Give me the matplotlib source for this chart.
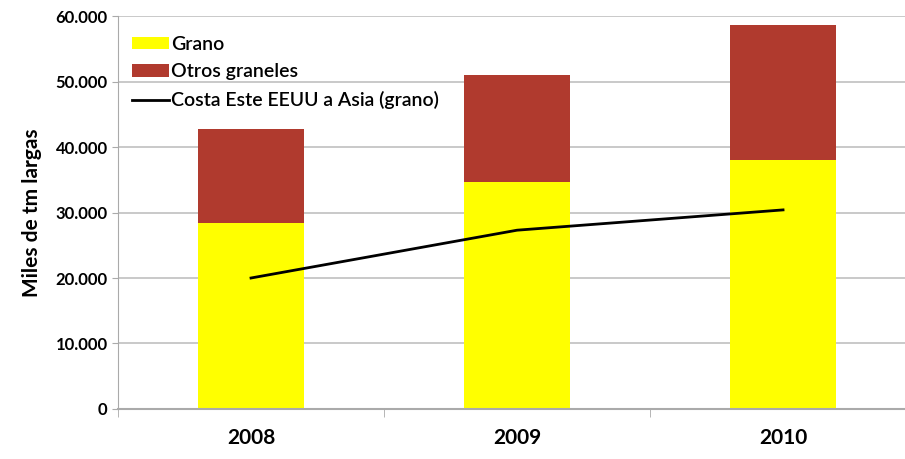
import numpy as np
import matplotlib.pyplot as plt
from matplotlib.ticker import FuncFormatter

years = ['2008', '2009', '2010']
grano = [28400, 34700, 38000]
otros = [14300, 16300, 20600]
costa_este = [20000, 27300, 30400]

plt.rcParams['font.family'] = ['Lato', 'DejaVu Sans']

fig = plt.figure(figsize=(9.05, 4.59), dpi=100)
ax = fig.add_axes([0.1304, 0.109, 0.8818, 0.856])

x = np.arange(len(years))
b1 = ax.bar(x, grano, width=0.4, color='#ffff00', label='Grano', zorder=2)
b2 = ax.bar(x, otros, width=0.4, bottom=grano, color='#b03a2e', label='Otros graneles', zorder=2)
l1, = ax.plot(x, costa_este, color='black', lw=2, label='Costa Este EEUU a Asia (grano)', zorder=3)

ax.set_xlim(-0.5, 2.5)
ax.set_ylim(0, 60000)
ax.set_yticks(np.arange(0, 60001, 10000))
ax.yaxis.set_major_formatter(FuncFormatter(lambda v, p: f'{int(v):,}'.replace(',', '.')))
ax.set_xticks(x)
ax.set_xticklabels(years, fontsize=15, fontweight='bold')
ax.set_xticks([-0.5, 0.5, 1.5, 2.5], minor=True)
ax.tick_params(axis='x', which='major', length=0, pad=14)
ax.tick_params(axis='x', which='minor', length=6, color='#aaaaaa')
ax.tick_params(axis='y', labelsize=12, length=4, color='#aaaaaa')
for lab in ax.get_yticklabels():
    lab.set_fontweight('bold')

ax.grid(axis='y', color='#c0c0c0', lw=1.2, zorder=0)
ax.set_axisbelow(True)
for s in ['top', 'right']:
    ax.spines[s].set_visible(False)
ax.spines['left'].set_color('#aaaaaa')
ax.spines['bottom'].set_color('#aaaaaa')
ax.spines['bottom'].set_linewidth(1.5)

ax.set_ylabel('Miles de tm largas', fontsize=15, fontweight='bold', labelpad=10)

leg = ax.legend([b1, b2, l1], ['Grano', 'Otros graneles', 'Costa Este EEUU a Asia (grano)'],
                loc='upper left', bbox_to_anchor=(0.0, 0.985), frameon=False, fontsize=14,
                handlelength=1.9, handleheight=0.6, handletextpad=0.15, labelspacing=0.55,
                borderaxespad=0.3)
for t in leg.get_texts():
    t.set_fontweight('semibold')

fig.savefig('out.png', dpi=100)
